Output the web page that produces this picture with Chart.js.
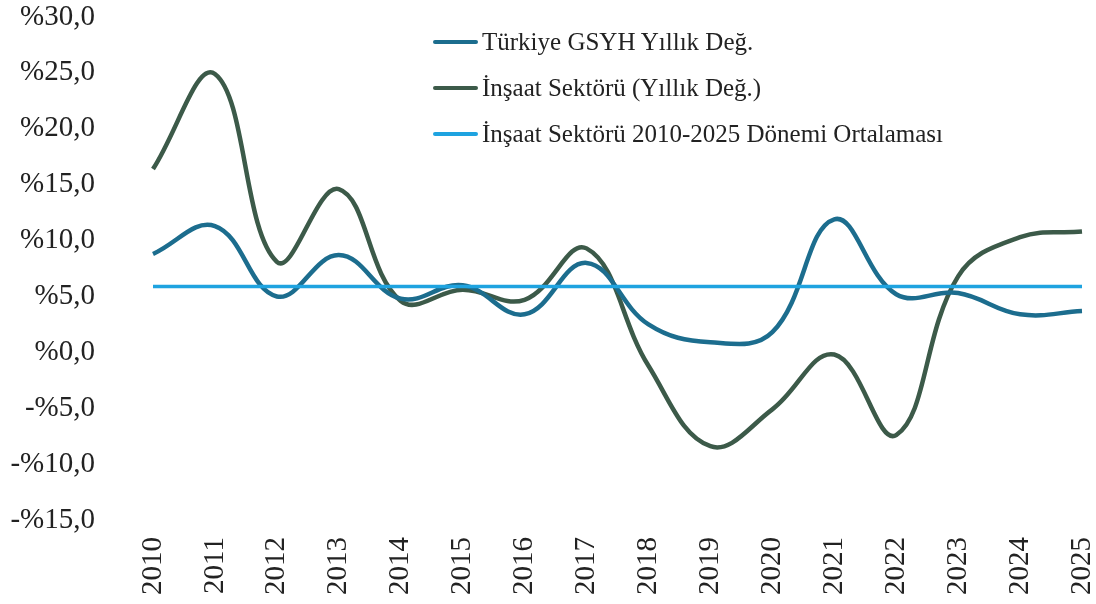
<!DOCTYPE html>
<html lang="tr">
<head>
<meta charset="utf-8">
<title>İnşaat Sektörü ve GSYH</title>
<script src="https://cdn.jsdelivr.net/npm/chart.js@4"></script>
<style>
  body { margin: 0; background: #fff; }
  #wrap { position: relative; width: 1096px; height: 604px; }
  #legend { position: absolute; left: 433px; top: 19px; font-family: "Liberation Serif", "Times New Roman", serif; font-size: 25px; color: #222; }
  #legend .row { display: flex; align-items: center; height: 46px; }
  #legend .swatch { width: 45px; height: 4px; margin-right: 4px; border-radius: 2px; }
</style>
</head>
<body>
<div id="wrap">
  <canvas id="grafik" width="1096" height="604"></canvas>
  <div id="legend"></div>
</div>
<script>
const yillar = ['2010', '2011', '2012', '2013', '2014', '2015', '2016', '2017',
                '2018', '2019', '2020', '2021', '2022', '2023', '2024', '2025'];

const gsyhDegisim = [8.8, 11.3, 5.0, 8.7, 4.8, 6.0, 3.4, 8.0, 2.5, 0.9, 1.8, 11.9, 5.2, 5.3, 3.4, 3.7];
const insaatDegisim = [16.4, 24.9, 8.1, 14.6, 4.6, 5.6, 4.7, 9.3, -1.2, -8.4, -5.1, -0.2, -7.4, 6.8, 10.3, 10.8];
const insaatOrtalama = [5.9, 5.9, 5.9, 5.9, 5.9, 5.9, 5.9, 5.9, 5.9, 5.9, 5.9, 5.9, 5.9, 5.9, 5.9, 5.9];

const yEtiketleri = ['-%15,0', '-%10,0', '-%5,0', '%0,0', '%5,0', '%10,0', '%15,0', '%20,0', '%25,0', '%30,0'];

const serifFont = '"Liberation Serif", "Times New Roman", serif';

const ctx = document.getElementById('grafik').getContext('2d');
const grafik = new Chart(ctx, {
  type: 'line',
  data: {
    labels: yillar,
    datasets: [
      {
        label: 'Türkiye GSYH Yıllık Değ.',
        data: gsyhDegisim,
        borderColor: '#1c6d8e',
        borderWidth: 4.5,
        tension: 0.4,
        pointRadius: 0,
        order: 1
      },
      {
        label: 'İnşaat Sektörü (Yıllık Değ.)',
        data: insaatDegisim,
        borderColor: '#3c5a49',
        borderWidth: 4.5,
        tension: 0.4,
        pointRadius: 0,
        order: 2
      },
      {
        label: 'İnşaat Sektörü 2010-2025 Dönemi Ortalaması',
        data: insaatOrtalama,
        borderColor: '#1ea3e0',
        borderWidth: 3.5,
        tension: 0,
        pointRadius: 0,
        order: 0
      }
    ]
  },
  options: {
    responsive: false,
    animation: false,
    layout: { padding: { left: 8, right: 0, top: 0, bottom: 0 } },
    plugins: {
      legend: { display: false },
      tooltip: { enabled: false }
    },
    scales: {
      x: {
        grid: { display: false, drawTicks: false },
        border: { display: false },
        ticks: {
          color: '#222',
          font: { family: serifFont, size: 29 },
          minRotation: 90,
          maxRotation: 90,
          padding: 17
        },
        afterFit: (scale) => {
          scale.height = 84;
          scale.paddingLeft = 0;
          scale.paddingRight = 14;
        }
      },
      y: {
        min: -15,
        max: 30,
        grid: { display: false, drawTicks: false },
        border: { display: false },
        ticks: {
          stepSize: 5,
          color: '#222',
          font: { family: serifFont, size: 29 },
          padding: 58,
          callback: (value, index) => yEtiketleri[index]
        },
        afterFit: (scale) => {
          scale.width = 145;
          scale.paddingTop = 17;
          scale.paddingBottom = 0;
        }
      }
    }
  }
});

// legend in HTML, built from the datasets
const legendDiv = document.getElementById('legend');
grafik.data.datasets.forEach(ds => {
  const row = document.createElement('div');
  row.className = 'row';
  row.innerHTML = `<span class="swatch" style="background:${ds.borderColor}"></span><span>${ds.label}</span>`;
  legendDiv.appendChild(row);
});
</script>
</body>
</html>
